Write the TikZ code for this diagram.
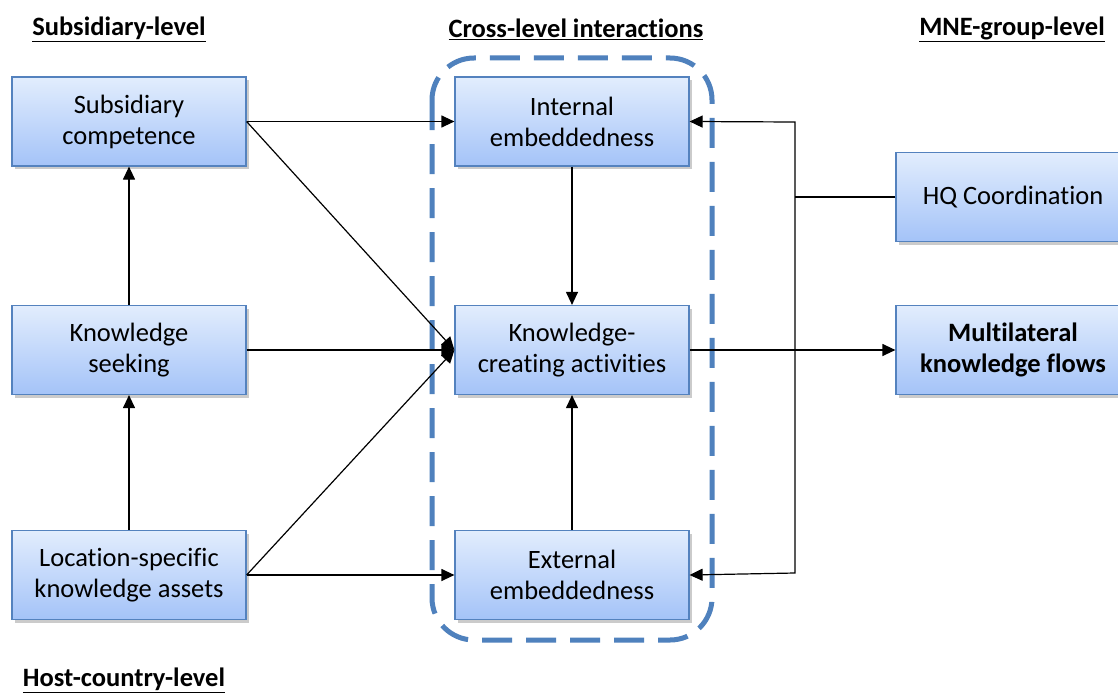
\documentclass[tikz,border=0pt]{standalone}
\usepackage{fontspec}
\setmainfont[Ligatures=NoCommon]{Carlito}
\usetikzlibrary{arrows.meta,shadows}
\definecolor{boxtop}{RGB}{226,237,253}
\definecolor{boxbot}{RGB}{164,195,248}
\definecolor{boxedge}{RGB}{84,130,190}
\definecolor{dashblue}{RGB}{79,129,189}
\begin{document}
\begin{tikzpicture}[x=1pt,y=-1pt,
 box/.style={draw=boxedge, line width=1.2pt, top color=boxtop, bottom color=boxbot,
   minimum width=234pt, minimum height=89pt, align=center,
   font=\fontsize{26.5}{31}\selectfont,
   drop shadow={shadow xshift=3pt,shadow yshift=-3pt,fill=black!45,opacity=0.45}},
 arr/.style={-{Triangle[length=13pt,width=12pt]}, line width=1.2pt},
 ln/.style={line width=1.2pt},
 hdr/.style={font=\fontsize{26.5}{30}\selectfont\bfseries}]
\useasboundingbox (0,0) rectangle (1118,693);
\clip (0,0) rectangle (1118,693);
\fill[white] (0,0) rectangle (1118,693);

% headers
\node[hdr] (h1) at (119,29) {\underline{Subsidiary-level}};
\node[hdr] (h2) at (576,29) {\underline{Cross-level interactions}};
\node[hdr] (h3) at (1012,29) {\underline{MNE-group-level}};
\node[hdr] (h4) at (124,680) {\underline{Host-country-level}};

% dashed frame
\draw[dashblue, line width=5pt, dash pattern=on 30pt off 14pt, rounded corners=42pt]
  (432,58) rectangle (712,640);

% boxes
\node[box] (sc) at (129,121.5) {Subsidiary\\competence};
\node[box] (ks) at (129,350) {Knowledge\\seeking};
\node[box] (lc) at (129,575) {Location-specific\\knowledge assets};
\node[box] (ie) at (572,121.5) {Internal\\embeddedness};
\node[box] (kc) at (572,350) {Knowledge-\\creating activities};
\node[box] (ee) at (572,575) {External\\embeddedness};
\node[box] (hq) at (1013,197) {HQ Coordination};
\node[box] (mk) at (1013,350) {\textbf{Multilateral}\\\textbf{knowledge flows}};

% junction coordinates
\coordinate (j1) at (795,122);
\coordinate (j2) at (795,573);
\coordinate (j0) at (795,197);

% connectors
\draw[arr] (sc.east) -- (ie.west);
\draw[arr] (sc.east) -- (kc.west);
\draw[arr] (ks.east) -- (kc.west);
\draw[arr] (lc.east) -- (kc.west);
\draw[arr] (lc.east) -- (ee.west);
\draw[arr] (ks.north) -- (sc.south);
\draw[arr] (lc.north) -- (ks.south);
\draw[arr] (ie.south) -- (kc.north);
\draw[arr] (ee.north) -- (kc.south);
\draw[arr] (kc.east) -- (mk.west);
\draw[ln] (hq.west) -- (j0);
\draw[ln, {Triangle[length=13pt,width=12pt]}-{Triangle[length=13pt,width=12pt]}]
  (ie.east) -- (j1) -- (j2) -- (ee.east);
\end{tikzpicture}
\end{document}
